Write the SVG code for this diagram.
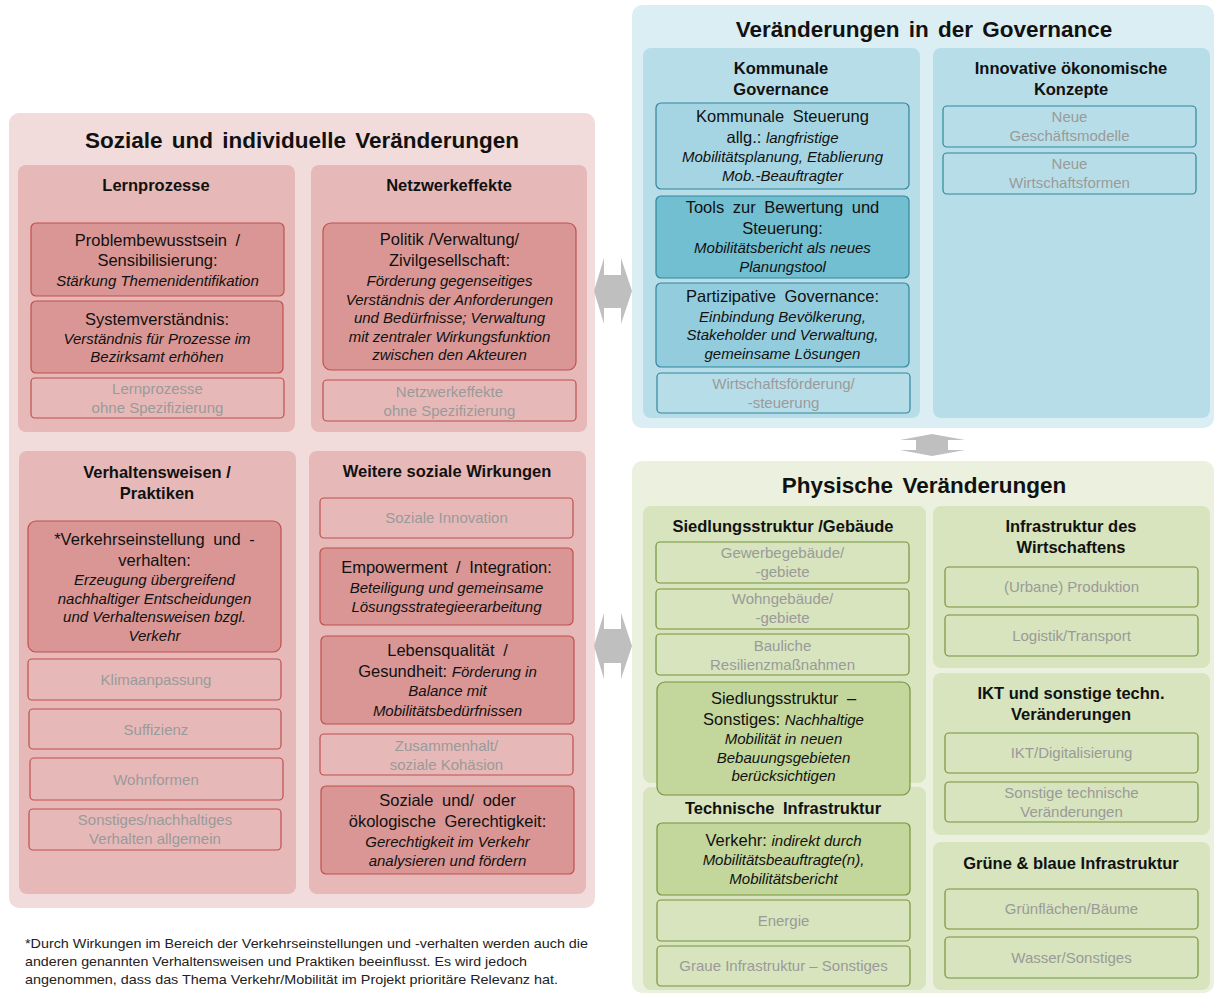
<svg xmlns="http://www.w3.org/2000/svg" width="1214" height="994" viewBox="0 0 1214 994">
<style>
text{font-family:"Liberation Sans",Arial,sans-serif;text-anchor:middle;fill:#111}
.h1{font-size:22.5px;font-weight:bold;word-spacing:3px}
.h2{font-size:16.5px;font-weight:bold}
.n{font-size:16.5px}
.it{font-size:15px;font-style:italic}
.g{font-size:15px;fill:#9a9a9a}
.ft{font-size:13px;text-anchor:start;fill:#222}
.pr{fill:#f2dcdb}.sr{fill:#e6b9b8}
.ir{fill:#d99694;stroke:#c0504d;stroke-width:1.2}
.or{fill:#e6b9b8;stroke:#c0504d;stroke-width:1.2}
.pb{fill:#dbeef4}.sb{fill:#b7dee8}
.ib1{fill:#a5d5e2;stroke:#31859c;stroke-width:1.2}
.ib2{fill:#72bfd2;stroke:#31859c;stroke-width:1.2}
.ib3{fill:#93cddd;stroke:#31859c;stroke-width:1.2}
.ob{fill:#b7dee8;stroke:#31859c;stroke-width:1.2}
.pg{fill:#ebf1de}.sg{fill:#d7e4bd}
.ig{fill:#c3d69b;stroke:#77933c;stroke-width:1.2}
.og{fill:#d7e4bd;stroke:#77933c;stroke-width:1.2}
.arr{fill:#bfbfbf}
.ws{word-spacing:4px}
</style>

<!-- Left panel -->
<g id="soziale">
<rect class="pr" x="9" y="113" width="586" height="795" rx="10"/>
<text class="h1" x="302" y="148">Soziale und individuelle Veränderungen</text>
</g>

<g id="lernprozesse">
<rect class="sr" x="18" y="165" width="277" height="267" rx="8"/>
<text class="h2" x="156" y="191">Lernprozesse</text>
</g>
<g id="problembewusstsein">
<rect class="ir" x="31" y="223" width="253" height="73" rx="5"/>
<text class="n ws" x="157.5" y="246">Problembewusstsein /</text>
<text class="n" x="157.5" y="266">Sensibilisierung:</text>
<text class="it" x="157.5" y="286">Stärkung Themenidentifikation</text>
</g>
<g id="systemverstaendnis">
<rect class="ir" x="31" y="301" width="252" height="72" rx="5"/>
<text class="n" x="157" y="325">Systemverständnis:</text>
<text class="it" x="157" y="344">Verständnis für Prozesse im</text>
<text class="it" x="157" y="362">Bezirksamt erhöhen</text>
</g>
<g id="lernprozesse-ohne">
<rect class="or" x="31" y="378" width="253" height="40" rx="4"/>
<text class="g" x="157.5" y="394">Lernprozesse</text>
<text class="g" x="157.5" y="413">ohne Spezifizierung</text>
</g>

<g id="netzwerkeffekte">
<rect class="sr" x="311" y="165" width="276" height="267" rx="8"/>
<text class="h2" x="449" y="191">Netzwerkeffekte</text>
</g>
<g id="politik">
<rect class="ir" x="323" y="223" width="253" height="147" rx="8"/>
<text class="n" x="449.5" y="245">Politik /Verwaltung/</text>
<text class="n" x="449.5" y="266">Zivilgesellschaft:</text>
<text class="it" x="449.5" y="286">Förderung gegenseitiges</text>
<text class="it" x="449.5" y="305">Verständnis der Anforderungen</text>
<text class="it" x="449.5" y="323">und Bedürfnisse; Verwaltung</text>
<text class="it" x="449.5" y="342">mit zentraler Wirkungsfunktion</text>
<text class="it" x="449.5" y="360">zwischen den Akteuren</text>
</g>
<g id="netzwerkeffekte-ohne">
<rect class="or" x="323" y="380" width="253" height="41" rx="4"/>
<text class="g" x="449.5" y="397">Netzwerkeffekte</text>
<text class="g" x="449.5" y="416">ohne Spezifizierung</text>
</g>

<g id="verhaltensweisen">
<rect class="sr" x="19" y="451" width="277" height="443" rx="8"/>
<text class="h2" x="157" y="478">Verhaltensweisen /</text>
<text class="h2" x="157" y="499">Praktiken</text>
</g>
<g id="verkehrseinstellung">
<rect class="ir" x="28" y="521" width="253" height="131" rx="8"/>
<text class="n ws" x="154.5" y="545">*Verkehrseinstellung und -</text>
<text class="n" x="154.5" y="566">verhalten:</text>
<text class="it" x="154.5" y="585">Erzeugung übergreifend</text>
<text class="it" x="154.5" y="604">nachhaltiger Entscheidungen</text>
<text class="it" x="154.5" y="622">und Verhaltensweisen bzgl.</text>
<text class="it" x="154.5" y="641">Verkehr</text>
</g>
<g id="klimaanpassung">
<rect class="or" x="28" y="659" width="253" height="41" rx="4"/>
<text class="g" x="156" y="685">Klimaanpassung</text>
</g>
<g id="suffizienz">
<rect class="or" x="29" y="709" width="252" height="40" rx="4"/>
<text class="g" x="156" y="735">Suffizienz</text>
</g>
<g id="wohnformen">
<rect class="or" x="30" y="758" width="253" height="42" rx="4"/>
<text class="g" x="156" y="785">Wohnformen</text>
</g>
<g id="sonstiges-verhalten">
<rect class="or" x="29" y="809" width="252" height="41" rx="4"/>
<text class="g" x="155" y="825">Sonstiges/nachhaltiges</text>
<text class="g" x="155" y="844">Verhalten allgemein</text>
</g>

<g id="weitere">
<rect class="sr" x="309" y="451" width="277" height="443" rx="8"/>
<text class="h2" x="447" y="477">Weitere soziale Wirkungen</text>
</g>
<g id="soziale-innovation">
<rect class="or" x="320" y="498" width="253" height="40" rx="4"/>
<text class="g" x="446.5" y="523">Soziale Innovation</text>
</g>
<g id="empowerment">
<rect class="ir" x="320" y="548" width="253" height="77" rx="5"/>
<text class="n ws" x="446.5" y="573">Empowerment / Integration:</text>
<text class="it" x="446.5" y="593">Beteiligung und gemeinsame</text>
<text class="it" x="446.5" y="612">Lösungsstrategieerarbeitung</text>
</g>
<g id="lebensqualitaet">
<rect class="ir" x="321" y="636" width="253" height="88" rx="5"/>
<text class="n ws" x="447.5" y="656">Lebensqualität /</text>
<text x="447.5" y="677"><tspan class="n">Gesundheit:  </tspan><tspan class="it">Förderung in</tspan></text>
<text class="it" x="447.5" y="696">Balance mit</text>
<text class="it" x="447.5" y="716">Mobilitätsbedürfnissen</text>
</g>
<g id="zusammenhalt">
<rect class="or" x="320" y="734" width="253" height="41" rx="4"/>
<text class="g" x="446.5" y="751">Zusammenhalt/</text>
<text class="g" x="446.5" y="770">soziale Kohäsion</text>
</g>
<g id="gerechtigkeit">
<rect class="ir" x="321" y="786" width="253" height="88" rx="5"/>
<text class="n ws" x="447.5" y="806">Soziale und/ oder</text>
<text class="n ws" x="447.5" y="827">ökologische Gerechtigkeit:</text>
<text class="it" x="447.5" y="847">Gerechtigkeit im Verkehr</text>
<text class="it" x="447.5" y="866">analysieren und fördern</text>
</g>

<!-- Governance -->
<g id="governance">
<rect class="pb" x="632" y="5" width="582" height="423" rx="10"/>
<text class="h1" x="924" y="37">Veränderungen in der Governance</text>
</g>
<g id="kommunale-governance">
<rect class="sb" x="643" y="48" width="277" height="370" rx="8"/>
<text class="h2" x="781" y="74">Kommunale</text>
<text class="h2" x="781" y="95">Governance</text>
</g>
<g id="kommunale-steuerung">
<rect class="ib1" x="656" y="103" width="253" height="86" rx="5"/>
<text class="n ws" x="782.5" y="122">Kommunale Steuerung</text>
<text x="782.5" y="143"><tspan class="n">allg.: </tspan><tspan class="it">langfristige</tspan></text>
<text class="it" x="782.5" y="162">Mobilitätsplanung, Etablierung</text>
<text class="it" x="782.5" y="181">Mob.-Beauftragter</text>
</g>
<g id="tools">
<rect class="ib2" x="656" y="196" width="253" height="82" rx="5"/>
<text class="n ws" x="782.5" y="213">Tools zur Bewertung und</text>
<text class="n" x="782.5" y="234">Steuerung:</text>
<text class="it" x="782.5" y="253">Mobilitätsbericht als neues</text>
<text class="it" x="782.5" y="272">Planungstool</text>
</g>
<g id="partizipative">
<rect class="ib3" x="656" y="283" width="253" height="84" rx="5"/>
<text class="n ws" x="782.5" y="302">Partizipative Governance:</text>
<text class="it" x="782.5" y="322">Einbindung Bevölkerung,</text>
<text class="it" x="782.5" y="340">Stakeholder und Verwaltung,</text>
<text class="it" x="782.5" y="359">gemeinsame Lösungen</text>
</g>
<g id="wirtschaftsfoerderung">
<rect class="ob" x="657" y="373" width="253" height="40" rx="4"/>
<text class="g" x="783.5" y="389">Wirtschaftsförderung/</text>
<text class="g" x="783.5" y="408">-steuerung</text>
</g>
<g id="innovative">
<rect class="sb" x="933" y="48" width="277" height="370" rx="8"/>
<text class="h2" x="1071" y="74">Innovative ökonomische</text>
<text class="h2" x="1071" y="95">Konzepte</text>
</g>
<g id="geschaeftsmodelle">
<rect class="ob" x="943" y="106" width="253" height="41" rx="4"/>
<text class="g" x="1069.5" y="122">Neue</text>
<text class="g" x="1069.5" y="141">Geschäftsmodelle</text>
</g>
<g id="wirtschaftsformen">
<rect class="ob" x="943" y="153" width="253" height="41" rx="4"/>
<text class="g" x="1069.5" y="169">Neue</text>
<text class="g" x="1069.5" y="188">Wirtschaftsformen</text>
</g>

<!-- Physical -->
<g id="physische">
<rect class="pg" x="632" y="461" width="582" height="532" rx="10"/>
<text class="h1" x="924" y="493">Physische Veränderungen</text>
</g>
<g id="siedlungsstruktur">
<rect class="sg" x="643" y="506" width="283" height="277" rx="8"/>
<text class="h2" x="783" y="532">Siedlungsstruktur /Gebäude</text>
</g>
<g id="technische">
<rect class="sg" x="643" y="787" width="283" height="203" rx="8"/>
<text class="h2 ws" x="783" y="814">Technische Infrastruktur</text>
</g>
<g id="gewerbe">
<rect class="og" x="656" y="542" width="253" height="41" rx="4"/>
<text class="g" x="782.5" y="558">Gewerbegebäude/</text>
<text class="g" x="782.5" y="577">-gebiete</text>
</g>
<g id="wohngebaeude">
<rect class="og" x="656" y="589" width="253" height="40" rx="4"/>
<text class="g" x="782.5" y="604">Wohngebäude/</text>
<text class="g" x="782.5" y="623">-gebiete</text>
</g>
<g id="bauliche">
<rect class="og" x="656" y="634" width="253" height="41" rx="4"/>
<text class="g" x="782.5" y="651">Bauliche</text>
<text class="g" x="782.5" y="670">Resilienzmaßnahmen</text>
</g>
<g id="siedlung-sonstiges">
<rect class="ig" x="657" y="682" width="253" height="113" rx="8"/>
<text class="n ws" x="783.5" y="704">Siedlungsstruktur –</text>
<text x="783.5" y="725"><tspan class="n">Sonstiges:  </tspan><tspan class="it">Nachhaltige</tspan></text>
<text class="it" x="783.5" y="744">Mobilität in neuen</text>
<text class="it" x="783.5" y="763">Bebauungsgebieten</text>
<text class="it" x="783.5" y="781">berücksichtigen</text>
</g>
<g id="verkehr">
<rect class="ig" x="657" y="823" width="253" height="72" rx="5"/>
<text x="783.5" y="846"><tspan class="n">Verkehr: </tspan><tspan class="it">indirekt durch</tspan></text>
<text class="it" x="783.5" y="865">Mobilitätsbeauftragte(n),</text>
<text class="it" x="783.5" y="884">Mobilitätsbericht</text>
</g>
<g id="energie">
<rect class="og" x="657" y="900" width="253" height="41" rx="4"/>
<text class="g" x="783.5" y="926">Energie</text>
</g>
<g id="graue">
<rect class="og" x="657" y="946" width="253" height="40" rx="4"/>
<text class="g" x="783.5" y="971">Graue Infrastruktur – Sonstiges</text>
</g>

<g id="wirtschaftens">
<rect class="sg" x="933" y="506" width="277" height="162" rx="8"/>
<text class="h2" x="1071" y="532">Infrastruktur des</text>
<text class="h2" x="1071" y="553">Wirtschaftens</text>
</g>
<g id="produktion">
<rect class="og" x="945" y="567" width="253" height="40" rx="4"/>
<text class="g" x="1071.5" y="592">(Urbane) Produktion</text>
</g>
<g id="logistik">
<rect class="og" x="945" y="615" width="253" height="41" rx="4"/>
<text class="g" x="1071.5" y="641">Logistik/Transport</text>
</g>
<g id="ikt">
<rect class="sg" x="933" y="673" width="277" height="162" rx="8"/>
<text class="h2" x="1071" y="699">IKT und sonstige techn.</text>
<text class="h2" x="1071" y="720">Veränderungen</text>
</g>
<g id="digitalisierung">
<rect class="og" x="945" y="733" width="253" height="40" rx="4"/>
<text class="g" x="1071.5" y="758">IKT/Digitalisierung</text>
</g>
<g id="sonstige-technische">
<rect class="og" x="945" y="782" width="253" height="40" rx="4"/>
<text class="g" x="1071.5" y="798">Sonstige technische</text>
<text class="g" x="1071.5" y="817">Veränderungen</text>
</g>
<g id="gruene-blaue">
<rect class="sg" x="933" y="842" width="277" height="148" rx="8"/>
<text class="h2" x="1071" y="869">Grüne &amp; blaue Infrastruktur</text>
</g>
<g id="gruenflaechen">
<rect class="og" x="945" y="889" width="253" height="40" rx="4"/>
<text class="g" x="1071.5" y="914">Grünflächen/Bäume</text>
</g>
<g id="wasser">
<rect class="og" x="945" y="937" width="253" height="41" rx="4"/>
<text class="g" x="1071.5" y="963">Wasser/Sonstiges</text>
</g>

<!-- Connectors -->
<g id="connectors">
<polygon class="arr" points="594,291 604,258 604,275 621,275 621,258 632,291 621,324 621,308 604,308 604,324"/>
<polygon class="arr" points="594,646 604,613 604,629 621,629 621,613 632,646 621,679 621,663 604,663 604,679"/>
<polygon class="arr" points="932,434 965,440 948,440 948,450 965,450 932,456 900,450 916,450 916,440 900,440"/>
</g>

<g id="footnote">
<text class="ft" x="25" y="948" textLength="563" lengthAdjust="spacingAndGlyphs">*Durch Wirkungen im Bereich der Verkehrseinstellungen und -verhalten werden auch die</text>
<text class="ft" x="25" y="966" textLength="502" lengthAdjust="spacingAndGlyphs">anderen genannten Verhaltensweisen und Praktiken beeinflusst. Es wird jedoch</text>
<text class="ft" x="25" y="984" textLength="533" lengthAdjust="spacingAndGlyphs">angenommen, dass das Thema Verkehr/Mobilität im Projekt prioritäre Relevanz hat.</text>
</g>
</svg>
